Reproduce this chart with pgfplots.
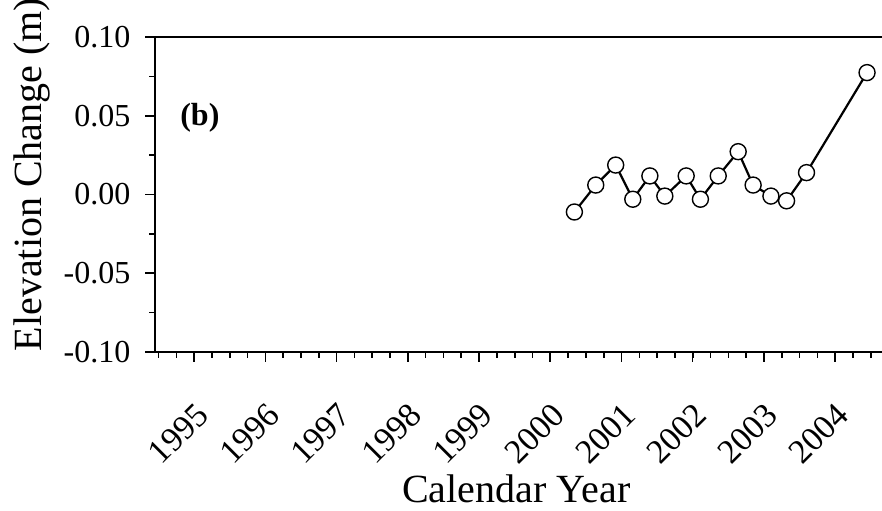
\documentclass[border=0pt]{standalone}
\usepackage{fontspec}
\setmainfont{Liberation Serif}
\usepackage{pgfplots}
\pgfplotsset{compat=1.18}
\begin{document}
\begin{tikzpicture}
\begin{axis}[
  name=ax,
  scale only axis,
  width=363.5pt, height=157.5pt,
  xmin=1994.45, xmax=2004.66,
  ymin=-0.1, ymax=0.1,
  separate axis lines,
  axis x line*=box, axis y line*=left,
  axis line style={line width=1pt},
  xtick={1995,1996,...,2004},
  minor xtick={1994.5,1994.75,...,2004.6},
  ytick={-0.1,-0.05,0,0.05,0.1},
  minor ytick={-0.075,-0.025,0.025,0.075},
  xtick pos=bottom, ytick pos=left,
  tick align=outside,
  major tick length=4.8pt, minor tick length=2.8pt,
  tick style={line width=0.8pt, black},
  /pgf/number format/assume math mode=true,
  xticklabel={\pgfmathprintnumber[1000 sep={}]{\tick}},
  yticklabel={\pgfmathprintnumber[fixed,fixed zerofill,precision=2]{\tick}},
  yticklabel style={font=\fontsize{16}{16}\selectfont, xshift=-4pt},
  xticklabel style={font=\fontsize{17}{17}\selectfont, rotate=45, anchor=north east},
  xticklabel shift=15pt,
  xlabel={Calendar Year},
  ylabel={Elevation Change (m)},
  label style={font=\fontsize{20}{20}\selectfont},
  xlabel style={at={(axis description cs:0.497,-0.479)}, anchor=base},
  ylabel style={xshift=10pt},
  clip=false,
]
\addplot[black, line width=1.1pt, mark=*, mark size=4pt,
  mark options={fill=white, draw=black, line width=0.7pt}] coordinates {
  (2000.34,-0.0111)
  (2000.64,0.0060)
  (2000.92,0.0187)
  (2001.16,-0.0030)
  (2001.40,0.0118)
  (2001.61,-0.0010)
  (2001.91,0.0118)
  (2002.11,-0.0030)
  (2002.36,0.0118)
  (2002.64,0.0272)
  (2002.85,0.0060)
  (2003.10,-0.0010)
  (2003.32,-0.0040)
  (2003.60,0.0139)
  (2004.45,0.0774)
};
\node[font=\fontsize{16}{16}\selectfont\bfseries] at (axis cs:1995.08,0.049) {(b)};
\end{axis}
\pgfresetboundingbox
\path ([shift={(-77.5pt,-79pt)}]ax.south west) rectangle ([shift={(0pt,18.5pt)}]ax.north east);
\end{tikzpicture}
\end{document}
